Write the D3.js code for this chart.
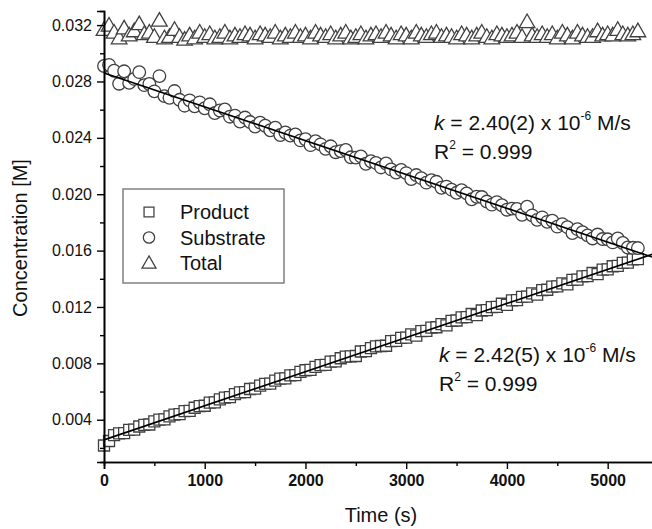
<!DOCTYPE html>
<html>
<head>
<meta charset="utf-8">
<script src="https://cdn.jsdelivr.net/npm/d3@7"></script>
<style>
  body { margin: 0; background: #fff; }
  text { font-family: "Liberation Sans", Arial, sans-serif; fill: #111; }
</style>
</head>
<body>
<div id="chart"></div>
<script>
const W = 652, H = 529;

// sample times (s)
const times = [0, 50, 100, 150, 200, 250, 300, 350, 400, 450,
  500, 550, 600, 650, 700, 750, 800, 850, 900, 950,
  1000, 1050, 1100, 1150, 1200, 1250, 1300, 1350, 1400, 1450,
  1500, 1550, 1600, 1650, 1700, 1750, 1800, 1850, 1900, 1950,
  2000, 2050, 2100, 2150, 2200, 2250, 2300, 2350, 2400, 2450,
  2500, 2550, 2600, 2650, 2700, 2750, 2800, 2850, 2900, 2950,
  3000, 3050, 3100, 3150, 3200, 3250, 3300, 3350, 3400, 3450,
  3500, 3550, 3600, 3650, 3700, 3750, 3800, 3850, 3900, 3950,
  4000, 4050, 4100, 4150, 4200, 4250, 4300, 4350, 4400, 4450,
  4500, 4550, 4600, 4650, 4700, 4750, 4800, 4850, 4900, 4950,
  5000, 5050, 5100, 5150, 5200, 5250, 5300];

// concentrations in units of 1e-5 M
const substrate = [2910, 2918, 2876, 2784, 2872, 2790, 2818, 2866, 2774, 2782,
  2730, 2838, 2696, 2684, 2732, 2670, 2628, 2666, 2624, 2652,
  2610, 2638, 2576, 2594, 2602, 2550, 2558, 2516, 2544, 2512,
  2480, 2508, 2486, 2454, 2472, 2420, 2438, 2416, 2424, 2382,
  2390, 2348, 2376, 2354, 2322, 2340, 2298, 2306, 2314, 2262,
  2260, 2268, 2216, 2234, 2222, 2190, 2218, 2176, 2154, 2172,
  2150, 2108, 2136, 2114, 2082, 2100, 2088, 2046, 2054, 2032,
  2010, 2028, 2006, 1964, 1982, 1980, 1948, 1926, 1944, 1922,
  1890, 1898, 1896, 1854, 1912, 1850, 1818, 1836, 1804, 1812,
  1770, 1788, 1766, 1724, 1752, 1730, 1708, 1686, 1714, 1682,
  1680, 1658, 1686, 1654, 1622, 1620, 1618];

const product = [217, 249, 291, 303, 305, 328, 330, 352, 364, 366,
  388, 400, 402, 424, 436, 439, 461, 463, 485, 497,
  499, 521, 523, 545, 557, 560, 582, 594, 596, 618,
  620, 642, 654, 656, 678, 691, 693, 715, 717, 739,
  751, 753, 775, 787, 789, 812, 814, 836, 848, 850,
  852, 884, 886, 908, 920, 923, 925, 957, 959, 981,
  983, 1005, 997, 1029, 1031, 1054, 1056, 1078, 1070, 1102,
  1104, 1126, 1128, 1150, 1142, 1175, 1177, 1199, 1201, 1223,
  1215, 1247, 1249, 1271, 1273, 1296, 1288, 1320, 1322, 1344,
  1346, 1368, 1360, 1392, 1394, 1417, 1419, 1441, 1433, 1465,
  1467, 1489, 1491, 1513, 1515, 1538, 1540];

const total = [3160, 3190, 3140, 3100, 3170, 3120, 3150, 3200, 3130, 3140,
  3110, 3225, 3100, 3110, 3160, 3110, 3090, 3120, 3100, 3140,
  3110, 3130, 3100, 3110, 3140, 3100, 3120, 3110, 3130, 3120,
  3100, 3130, 3120, 3110, 3140, 3100, 3120, 3110, 3140, 3110,
  3120, 3100, 3140, 3120, 3110, 3130, 3100, 3120, 3140, 3100,
  3110, 3130, 3100, 3120, 3130, 3110, 3140, 3120, 3100, 3130,
  3120, 3100, 3140, 3120, 3110, 3130, 3140, 3110, 3120, 3110,
  3100, 3130, 3120, 3100, 3120, 3140, 3110, 3100, 3130, 3120,
  3110, 3120, 3140, 3110, 3215, 3120, 3110, 3130, 3110, 3130,
  3100, 3140, 3120, 3100, 3140, 3120, 3110, 3110, 3150, 3120,
  3130, 3120, 3160, 3130, 3120, 3130, 3150];

// linear fits: [intercept (M), slope (M/s)]
const substrateFit = [0.0286, -2.40e-6];
const productFit = [0.00257, 2.42e-6];

const seriesNames = ["Product", "Substrate", "Total"];
const yTicks = [0.004, 0.008, 0.012, 0.016, 0.020, 0.024, 0.028, 0.032];
const xTicks = [0, 1000, 2000, 3000, 4000, 5000];

const svg = d3.select("#chart").append("svg")
  .attr("width", W).attr("height", H);

const x = d3.scaleLinear().domain([0, 5450]).range([104, 653]);
const y = d3.scaleLinear().domain([0.001, 0.033]).range([462, 11]);

// marker shapes
function shape(name) {
  if (name === "Product") return "M-5.5,-5.5h11v11h-11z";
  if (name === "Substrate") return "M-6.3,0a6.3,6.3 0 1,0 12.6,0a6.3,6.3 0 1,0 -12.6,0z";
  return "M0,-9L7.8,4.6L-7.8,4.6z";
}

const toPts = (vals) => vals.map((v, i) => [times[i], v * 1e-5]);

const markStroke = "#404040";

function drawSeries(name, vals) {
  svg.append("g").attr("class", name)
    .selectAll("path")
    .data(toPts(vals))
    .enter()
    .append("path")
    .attr("d", shape(name))
    .attr("transform", d => `translate(${x(d[0])},${y(d[1])})`)
    .attr("fill", "#fff")
    .attr("stroke", markStroke)
    .attr("stroke-width", 1.3);
}

drawSeries("Total", total);
drawSeries("Product", product);
drawSeries("Substrate", substrate);

// fit lines
[substrateFit, productFit].forEach(f => {
  const xd = x.domain();
  svg.append("line")
    .attr("x1", x(xd[0])).attr("y1", y(f[0] + f[1] * xd[0]))
    .attr("x2", x(xd[1])).attr("y2", y(f[0] + f[1] * xd[1]))
    .attr("stroke", "#000").attr("stroke-width", 1.6);
});

// axes
const yAxis = svg.append("g").attr("transform", `translate(${x(0)},0)`)
  .call(d3.axisLeft(y).tickValues(yTicks).tickFormat(d3.format(".3f")).tickSize(7).tickPadding(5));
svg.append("g").attr("transform", `translate(${x(0)},0)`)
  .call(d3.axisLeft(y).tickValues(yTicks.map(v => v - 0.002)).tickFormat("").tickSize(4));

const xAxis = svg.append("g").attr("transform", `translate(0,${y(0.001)})`)
  .call(d3.axisBottom(x).tickValues(xTicks).tickFormat(d3.format("d")).tickSize(7).tickPadding(6));
svg.append("g").attr("transform", `translate(0,${y(0.001)})`)
  .call(d3.axisBottom(x).tickValues(xTicks.map(v => v + 500)).tickFormat("").tickSize(4));

svg.selectAll(".domain").attr("stroke", "#000").attr("stroke-width", 1.6);
svg.selectAll(".tick line").attr("stroke", "#000").attr("stroke-width", 1.4);
yAxis.selectAll(".tick text").style("font-size", "16px").style("font-family", "Liberation Sans, Arial, sans-serif");
xAxis.selectAll(".tick text").style("font-size", "16px").style("font-weight", "bold")
  .style("font-family", "Liberation Sans, Arial, sans-serif");

// axis titles
svg.append("text")
  .attr("x", 381).attr("y", 522)
  .attr("text-anchor", "middle")
  .style("font-size", "20px")
  .text("Time (s)");

svg.append("text")
  .attr("transform", "translate(27,238) rotate(-90)")
  .attr("text-anchor", "middle")
  .style("font-size", "20px")
  .text("Concentration [M]");

// legend
const lg = svg.append("g");
lg.append("rect")
  .attr("x", 123).attr("y", 189).attr("width", 161).attr("height", 94)
  .attr("fill", "#fff").attr("stroke", "#777").attr("stroke-width", 1.4);
seriesNames.forEach((n, i) => {
  const cy = 212 + i * 25.5;
  lg.append("path")
    .attr("d", shape(n))
    .attr("transform", `translate(149,${cy + (n === "Total" ? 1 : 0)}) scale(0.9)`)
    .attr("fill", "#fff").attr("stroke", markStroke).attr("stroke-width", 1.4);
  lg.append("text")
    .attr("x", 180).attr("y", cy + 7)
    .style("font-size", "20px")
    .text(n);
});

// annotations
function annot(x0, y0, k) {
  const t1 = svg.append("text").attr("x", x0).attr("y", y0).style("font-size", "21px");
  t1.append("tspan").style("font-style", "italic").text("k");
  t1.append("tspan").text(` = ${k} x 10`);
  t1.append("tspan").attr("dy", -10).style("font-size", "12px").text("-6");
  t1.append("tspan").attr("dy", 10).text(" M/s");
  const t2 = svg.append("text").attr("x", x0).attr("y", y0 + 29).style("font-size", "21px");
  t2.append("tspan").text("R");
  t2.append("tspan").attr("dy", -10).style("font-size", "12px").text("2");
  t2.append("tspan").attr("dy", 10).text(" = 0.999");
}
annot(434, 130, "2.40(2)");
annot(439, 362, "2.42(5)");
</script>
</body>
</html>
